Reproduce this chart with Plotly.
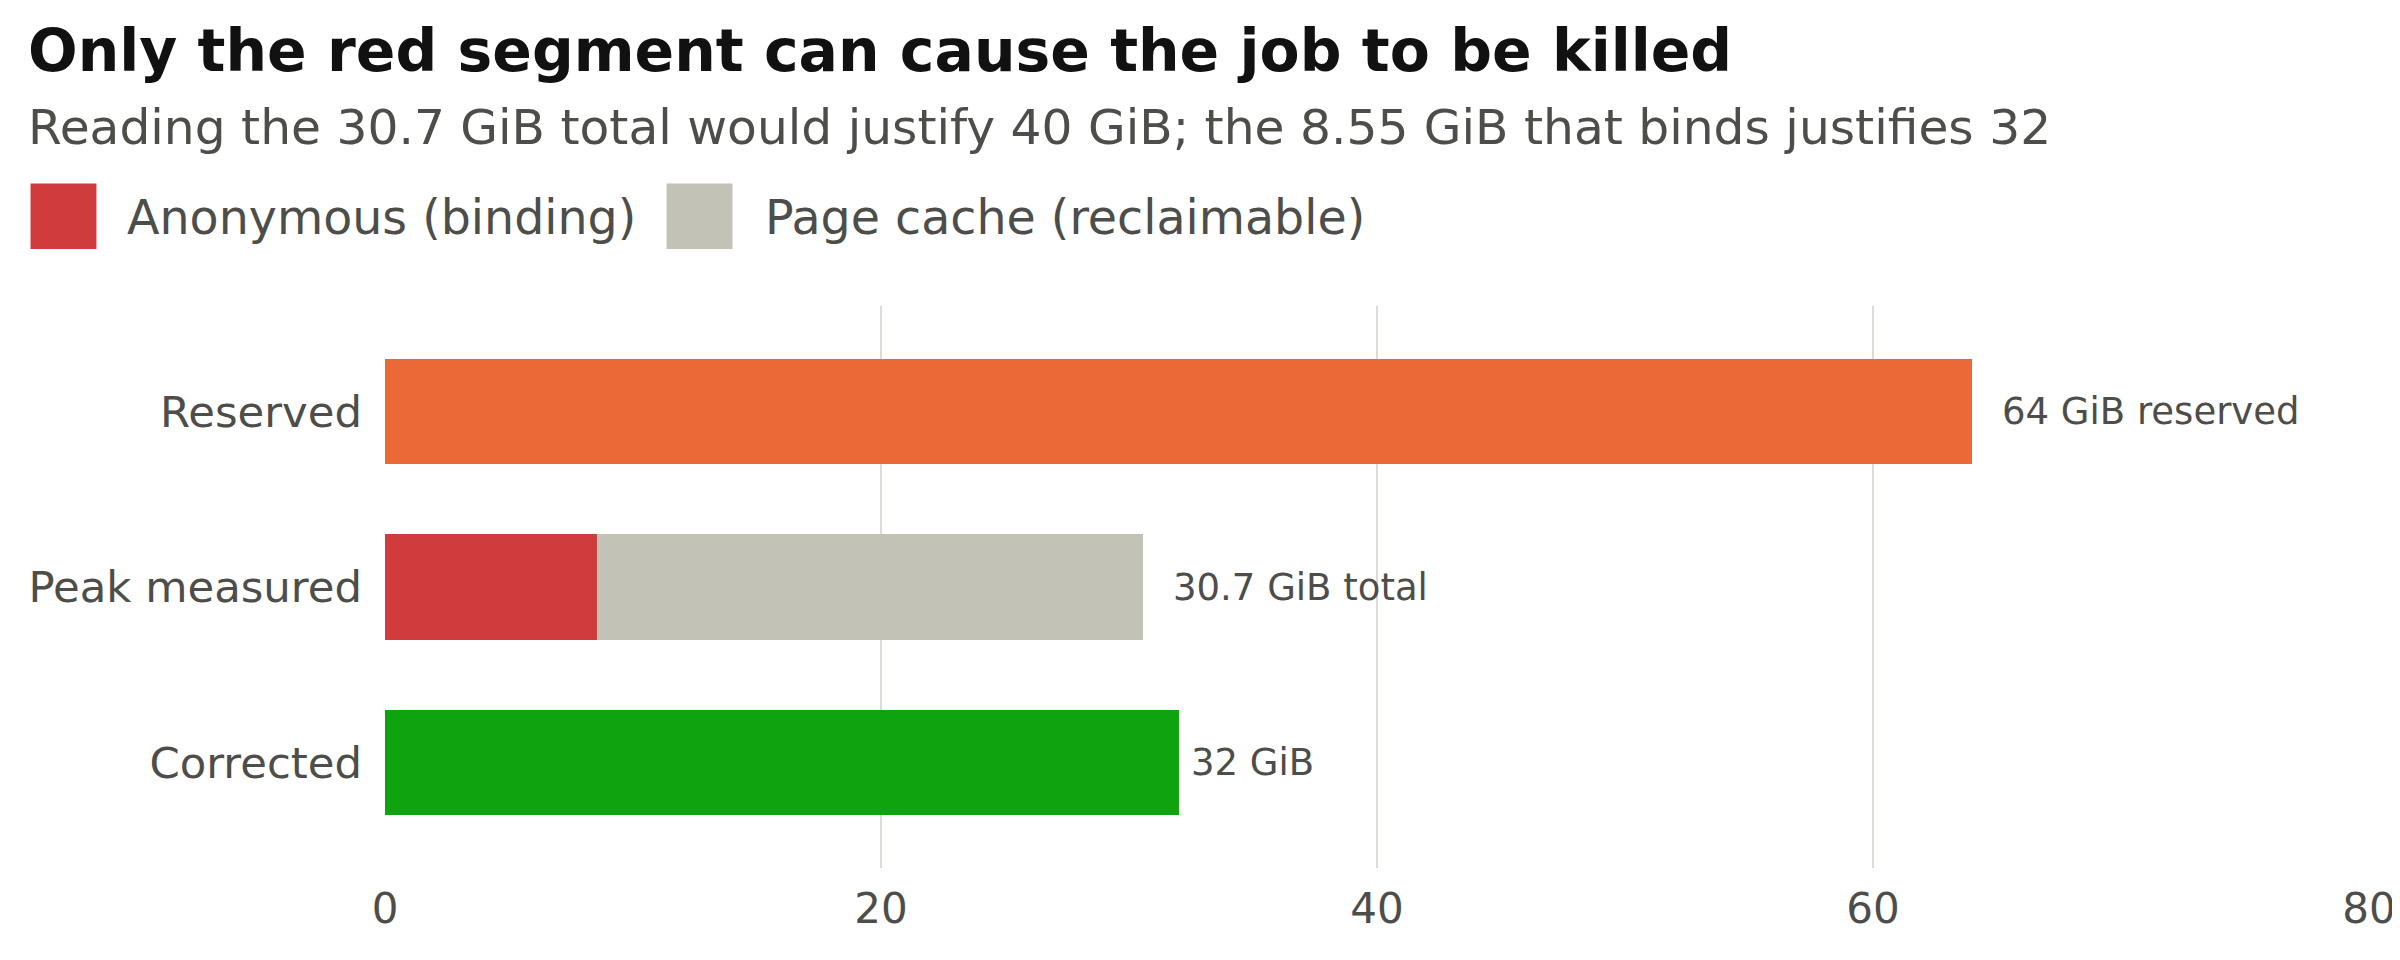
import plotly.graph_objects as go

# ---- data ----
categories = ["Reserved", "Peak measured", "Corrected"]
reserved_gib = [64.0]
anon_gib = [8.55]
cache_gib = [22.0]
corrected_gib = [32.0]
bar_labels = ["64 GiB reserved", "30.7 GiB total", "32 GiB"]
x_ticks = [0, 20, 40, 60, 80]
series_names = ["Anonymous (binding)", "Page cache (reclaimable)"]

title_text = "Only the red segment can cause the job to be killed"
subtitle_text = "Reading the 30.7 GiB total would justify 40 GiB; the 8.55 GiB that binds justifies 32"

# ---- style ----
FONT = "DejaVu Sans"
TXT = "#4d4d4a"
C_RES = "#EA6936"
C_ANON = "#D03C3D"
C_CACHE = "#C2C2B6"
C_CORR = "#0EA30F"
GRID = "#DCDCD5"

OFF = 8  # page body margin
W, H = 2400, 960
L = 385 - OFF
T = 305.5 - OFF
R = W - (2372 - OFF)
B = H - (868 - OFF)
PW, PH = W - L - R, H - T - B


def xp(px):
    return (px - OFF - L) / PW


def yp(py):
    return (H - B - (py - OFF)) / PH


fig = go.Figure()
fig.add_bar(y=[categories[0]], x=reserved_gib, orientation="h", marker_color=C_RES,
            width=0.6, showlegend=False, marker_line_width=0)
fig.add_bar(y=[categories[1]], x=anon_gib, orientation="h", marker_color=C_ANON,
            width=0.6, name=series_names[0], showlegend=False, marker_line_width=0)
fig.add_bar(y=[categories[1]], x=cache_gib, orientation="h", marker_color=C_CACHE,
            width=0.6, name=series_names[1], showlegend=False, marker_line_width=0)
fig.add_bar(y=[categories[2]], x=corrected_gib, orientation="h", marker_color=C_CORR,
            width=0.6, showlegend=False, marker_line_width=0)

ends = [reserved_gib[0], anon_gib[0] + cache_gib[0], corrected_gib[0]]
shifts = [28, 28, 10]
annotations = []
for cat, end, lab, sh in zip(categories, ends, bar_labels, shifts):
    annotations.append(dict(x=end, y=cat, xref="x", yref="y", text=lab, showarrow=False,
                            xanchor="left", yanchor="middle", xshift=sh,
                            font=dict(family=FONT, size=37, color=TXT)))

# title & subtitle
annotations.append(dict(x=xp(25), y=yp(50), xref="paper", yref="paper", text="<b>" + title_text + "</b>",
                        showarrow=False, xanchor="left", yanchor="middle",
                        font=dict(family=FONT, size=58.4, color="#111111")))
annotations.append(dict(x=xp(25), y=yp(126), xref="paper", yref="paper", text=subtitle_text,
                        showarrow=False, xanchor="left", yanchor="middle",
                        font=dict(family=FONT, size=48.7, color=TXT)))

# legend (manual)
shapes = []
leg_items = [(30, 96, 125, C_ANON, series_names[0]), (667, 733, 764, C_CACHE, series_names[1])]
for x0, x1, tx, col, name in leg_items:
    shapes.append(dict(type="rect", xref="paper", yref="paper", x0=xp(x0), x1=xp(x1),
                       y0=yp(248.5), y1=yp(183), fillcolor=col, line_width=0))
    annotations.append(dict(x=xp(tx), y=yp(216.5), xref="paper", yref="paper", text=name,
                            showarrow=False, xanchor="left", yanchor="middle",
                            font=dict(family=FONT, size=47.5, color=TXT)))

fig.update_layout(
    width=W, height=H,
    margin=dict(l=L, r=R, t=T, b=B, pad=0),
    paper_bgcolor="white", plot_bgcolor="white",
    barmode="stack", bargap=0.4,
    showlegend=False,
    annotations=annotations, shapes=shapes,
    font=dict(family=FONT, color=TXT),
)
fig.update_xaxes(range=[0, 80], tickvals=x_ticks, showgrid=True, gridcolor=GRID, gridwidth=2,
                 zeroline=False, showline=False, ticks="", ticklabelstandoff=12,
                 tickfont=dict(family=FONT, size=42, color=TXT))
fig.update_yaxes(type="category", categoryorder="array", categoryarray=categories,
                 range=[2.6, -0.6], showgrid=False, zeroline=False, showline=False, ticks="",
                 ticklabelstandoff=22, tickfont=dict(family=FONT, size=43.4, color=TXT))

fig.write_html("out.html")
